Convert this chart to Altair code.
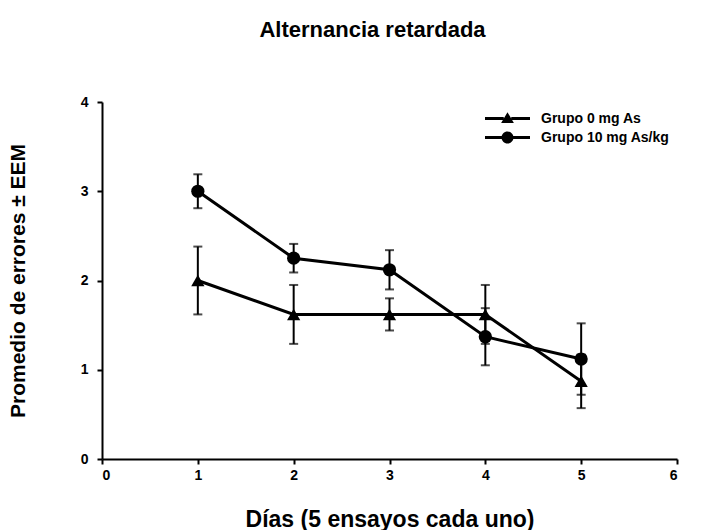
import altair as alt
import pandas as pd

dias = [1, 2, 3, 4, 5]
grupos = ["Grupo 0 mg As", "Grupo 10 mg As/kg"]
media_0 = [2.0, 1.62, 1.62, 1.62, 0.87]
eem_0 = [0.38, 0.33, 0.18, 0.33, 0.30]
media_10 = [3.0, 2.25, 2.12, 1.37, 1.12]
eem_10 = [0.19, 0.16, 0.22, 0.32, 0.40]

rows = []
for g, m, e in [(grupos[0], media_0, eem_0), (grupos[1], media_10, eem_10)]:
    for d, mv, ev in zip(dias, m, e):
        rows.append({"dia": d, "grupo": g, "media": mv, "lo": mv - ev, "hi": mv + ev})
df = pd.DataFrame(rows)

FONT = "Liberation Sans"
YTITLE = "Promedio de errores ± EEM"
XTITLE = "Días (5 ensayos cada uno)"

xscale = alt.Scale(domain=[0, 6], nice=False)
yscale = alt.Scale(domain=[0, 4], nice=False)
xaxis = alt.Axis(values=[0, 1, 2, 3, 4, 5, 6], format="d", title=XTITLE, titlePadding=26,
                 titleFontSize=23)
yaxis = alt.Axis(values=[0, 1, 2, 3, 4], format="d", title=YTITLE, titlePadding=52,
                 titleFontSize=21)

x = alt.X("dia:Q", scale=xscale, axis=xaxis)
y = alt.Y("media:Q", scale=yscale, axis=yaxis)

shape_scale = alt.Scale(domain=grupos, range=["triangle-up", "circle"])

base = alt.Chart(df)

lines = base.mark_line(color="black", strokeWidth=3).encode(x=x, y=y, detail="grupo:N")

errs = base.mark_errorbar(ticks=alt.MarkConfig(size=9, strokeWidth=2), color="black",
                          thickness=2).encode(
    x=x, y=alt.Y("lo:Q", scale=yscale, axis=yaxis, title=YTITLE), y2="hi:Q")

pts = base.mark_point(filled=True, color="black", opacity=1, size=175).encode(
    x=x, y=y, shape=alt.Shape("grupo:N", scale=shape_scale, legend=None))

bar_path = "M-3,-0.2H-0.5V0.2H-3ZM0.5,-0.2H3V0.2H0.5Z"
tri_path = bar_path + "M0,-0.85L0.85,0.6L-0.85,0.6Z"
circ_path = bar_path + "M0.8,0A0.8,0.8,0,1,1,-0.8,0A0.8,0.8,0,1,1,0.8,0Z"

leg = base.mark_point(filled=True, color="black", opacity=0, size=225).encode(
    x=x, y=y,
    shape=alt.Shape("grupo:N", scale=alt.Scale(domain=grupos, range=[tri_path, circ_path]),
                    legend=alt.Legend(title=None, orient="none", legendX=398, legendY=9,
                                      symbolSize=225, labelOffset=26, rowPadding=4,
                                      symbolOpacity=1, symbolFillColor="black",
                                      symbolStrokeWidth=0,
                                      labelFont=FONT, labelFontSize=14, labelFontWeight="bold",
                                      labelColor="black")))

chart = alt.layer(lines, errs, pts, leg).resolve_scale(shape="independent").properties(
    width=575, height=357,
    autosize=alt.AutoSizeParams(type="none"),
    padding={"left": 102, "top": 102, "right": 39, "bottom": 71},
    title=alt.TitleParams("Alternancia retardada", font=FONT, fontSize=22, fontWeight="bold",
                          color="black", offset=53, dx=-17, anchor="middle"),
).configure_view(stroke=None).configure_axis(
    domainColor="black", domainWidth=2, tickColor="black", tickWidth=2, tickSize=5,
    grid=False, labelFont=FONT, labelFontSize=14, labelFontWeight="bold", labelColor="black",
    titleFont=FONT, titleFontWeight="bold", titleColor="black",
).configure_axisY(labelPadding=9).configure_axisX(labelPadding=4)

chart.save("out.html", embed_options={"renderer": "svg", "actions": False})
